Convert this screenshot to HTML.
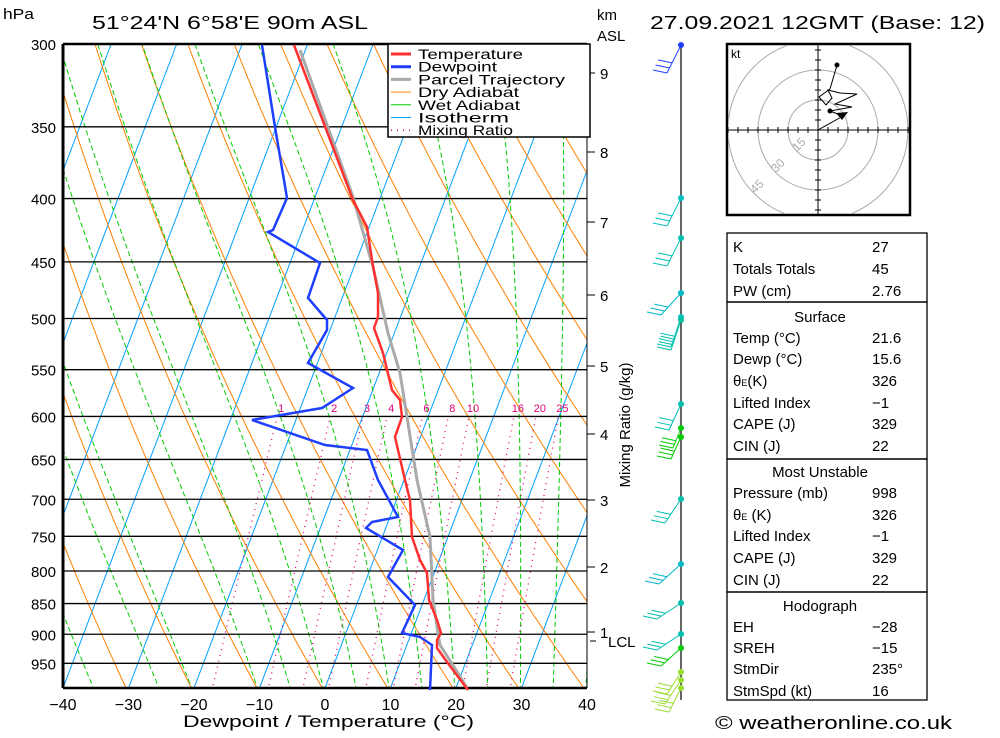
<!DOCTYPE html>
<html><head><meta charset="utf-8"><style>
body{margin:0;background:#fff;width:1000px;height:733px;overflow:hidden;font-family:"Liberation Sans",sans-serif;}
svg text{font-family:"Liberation Sans",sans-serif;}
</style></head><body>
<svg id="s" width="1000" height="733" xmlns="http://www.w3.org/2000/svg"></svg>
<script>
var S=document.getElementById('s'),o='';
function Y(p){return 44+537.3*Math.log(p/300);}
function X(T,p){return 63+(T+40)*6.55+(688-Y(p))*0.38;}
function pl(pts,st){return '<polyline fill="none" points="'+pts.map(function(a){return a[0].toFixed(1)+','+a[1].toFixed(1)}).join(' ')+'" '+st+'/>';}
function TL(n){return ' textLength="'+n+'" lengthAdjust="spacingAndGlyphs"';}
o+='<defs><clipPath id="c"><rect x="63" y="44" width="524" height="644"/></clipPath></defs><g clip-path="url(#c)">';
for(var T=-120;T<=40;T+=10){o+=pl([[X(T,1000),Y(1000)],[X(T,300),Y(300)]],'stroke="#00a0ff" stroke-width="1"');}
for(var th=203.15;th<=523.15;th+=10){var a=[];for(var p=1000;p>=300;p-=10){a.push([X(th*Math.pow(p/1000,0.286)-273.15,p),Y(p)]);}o+=pl(a,'stroke="#ff8000" stroke-width="1"');}
function es(t){return 6.112*Math.exp(17.67*t/(t+243.5));}
var ws=[-35,-25,-20,-10,-5,0,5,10,15,20,25,30,35,40];
ws.forEach(function(t0){var t=t0,a=[],p=1000;a.push([X(t,p),Y(p)]);while(p>300){var TK=t+273.15,e=es(t),rs=0.622*e/(p-e);var g=(287*TK+2.5e6*rs)/(1004+2.5e6*2.5e6*rs*0.622/(287*TK*TK))/p;var dp=-5;t+=g*dp;p+=dp;a.push([X(t,p),Y(p)]);}o+=pl(a,'stroke="#00cc00" stroke-width="1" stroke-dasharray="5,3"');});
var mr=[1,2,3,4,6,8,10,16,20,25];
mr.forEach(function(w){var a=[];for(var p=1000;p>=600;p-=10){var e=w*p/(622+w),l=Math.log(e/6.112),td=243.5*l/(17.67-l);a.push([X(td,p),Y(p)]);}o+=pl(a,'stroke="#e0007a" stroke-width="1.3" stroke-dasharray="1,5"');var e=w*600/(622+w),l=Math.log(e/6.112),td=243.5*l/(17.67-l);o+='<text x="'+(X(td,600)+4).toFixed(1)+'" y="412" font-size="11" fill="#e0007a" text-anchor="middle">'+w+'</text>';});
o+='</g>';
[300,350,400,450,500,550,600,650,700,750,800,850,900,950].forEach(function(p){var y=Y(p);o+='<line x1="63" x2="587" y1="'+y+'" y2="'+y+'" stroke="#000" stroke-width="1.3"/>';o+='<text x="56" y="'+(y+6)+'" font-size="15" text-anchor="end">'+p+'</text>';});
o+='<line x1="63" x2="587" y1="44" y2="44" stroke="#000" stroke-width="2.5"/>';
o+='<line x1="63" x2="587" y1="688" y2="688" stroke="#000" stroke-width="2.5"/>';
o+='<line x1="63" x2="63" y1="44" y2="688" stroke="#000" stroke-width="3"/>';
o+='<line x1="587" x2="587" y1="44" y2="688" stroke="#000" stroke-width="1"/>';
for(var t=-40;t<=40;t+=10){var x=63+(t+40)*6.55;o+='<text x="'+x+'" y="710" font-size="16" text-anchor="middle">'+(t<0?'\u2212'+(-t):t)+'</text>';}
o+='<text x="183" y="727" font-size="17"'+TL(291)+'>Dewpoint / Temperature (°C)</text>';
o+='<text x="3" y="19" font-size="15"'+TL(31)+'>hPa</text>';
o+='<text x="92" y="29" font-size="18"'+TL(276)+'>51°24\'N  6°58\'E  90m  ASL</text>';
o+='<text x="650" y="29" font-size="18"'+TL(335)+'>27.09.2021  12GMT  (Base: 12)</text>';
o+='<text x="597" y="20" font-size="15">km</text><text x="597" y="41" font-size="15">ASL</text>';
[[9,73],[8,152],[7,222],[6,295],[5,366],[4,434],[3,500],[2,567],[1,632]].forEach(function(k){o+='<line x1="587" x2="595" y1="'+k[1]+'" y2="'+k[1]+'" stroke="#000"/><text x="600" y="'+(k[1]+6)+'" font-size="15">'+k[0]+'</text>';});
o+='<line x1="590" x2="596" y1="641" y2="641" stroke="#000"/><text x="608" y="647" font-size="15">LCL</text>';
o+='<text transform="translate(630,425) rotate(-90)" font-size="15" text-anchor="middle">Mixing Ratio (g/kg)</text>';
var par=[[300,50],[353,197],[373,267],[388,333],[400,373],[407,417],[417,480],[430,537],[433,600],[438,633],[440,645],[458,673],[467,688]];
o+=pl(par,'stroke="#aaaaaa" stroke-width="3"');
var dew=[[262,45],[275,127],[287,198],[273,230],[268,232],[320,263],[308,298],[327,320],[327,330],[308,363],[353,388],[322,408],[252,420],[325,445],[367,450],[378,480],[398,517],[372,522],[366,528],[403,550],[388,577],[415,605],[402,633],[420,637],[432,645],[430,690]];
o+=pl(dew,'stroke="#1f3fff" stroke-width="2.5"');
var tem=[[294,45],[353,200],[367,227],[372,260],[378,293],[378,317],[374,328],[383,353],[392,390],[400,400],[402,417],[395,437],[405,480],[410,500],[412,537],[420,560],[427,573],[429,600],[437,620],[441,633],[437,640],[437,648],[447,662],[468,690]];
o+=pl(tem,'stroke="#ff3030" stroke-width="2.5"');
o+='<rect x="388" y="44" width="202" height="93" fill="#fff" stroke="#000" stroke-width="1.5"/>';
var lg=[['Temperature','#ff3030',3,'',105],['Dewpoint','#1f3fff',3,'',79],['Parcel Trajectory','#aaaaaa',3,'',147],['Dry Adiabat','#ff8000',1,'',101],['Wet Adiabat','#00cc00',1,'',102],['Isotherm','#00a0ff',1,'',91],['Mixing Ratio','#e0007a',1.5,'stroke-dasharray="1,5"',95]];
lg.forEach(function(l,i){var y=54+i*12.7;o+='<line x1="391" x2="411" y1="'+y+'" y2="'+y+'" stroke="'+l[1]+'" stroke-width="'+l[2]+'" '+l[3]+'/><text x="418" y="'+(y+5)+'" font-size="14"'+TL(l[4])+'>'+l[0]+'</text>';});
o+='<line x1="681" x2="681" y1="44" y2="700" stroke="#000" stroke-width="1.2"/>';
var bb=[[45,'#1f3fff',-14,28],[198,'#00c0c0',-14,28],[238,'#00c0b0',-14,28],[293,'#00b8c8',-20,22],[317,'#00c0c0',-10,30],[320,'#00c0a0',-10,30],[404,'#00c0b0',-12,26],[428,'#00cc00',-8,20],[437,'#00cc00',-10,22],[499,'#00c0b0',-16,24],[564,'#00b8c8',-22,20],[603,'#00c0b0',-24,16],[634,'#00c0b0',-24,16],[648,'#00cc00',-20,18],[672,'#99dd33',-14,22],[680,'#99dd33',-16,24],[688,'#99dd33',-12,24]];
bb.forEach(function(b){var x2=681+b[2],y2=b[0]+b[3];o+='<circle cx="681" cy="'+b[0]+'" r="3" fill="'+b[1]+'"/><line x1="681" y1="'+b[0]+'" x2="'+x2+'" y2="'+y2+'" stroke="'+b[1]+'"/>';for(var k=0;k<3;k++){var f=k*0.18,xs=x2+(681-x2)*f,ys=y2+(b[0]-y2)*f;o+='<line x1="'+xs+'" y1="'+ys+'" x2="'+(xs-14)+'" y2="'+(ys-3)+'" stroke="'+b[1]+'"/>';}});
o+='<rect x="727" y="44" width="183" height="171" fill="#fff" stroke="#000" stroke-width="2.5"/>';
o+='<clipPath id="h"><rect x="728" y="45" width="181" height="169"/></clipPath><g clip-path="url(#h)">';
[30,60,90].forEach(function(r){o+='<circle cx="818" cy="130" r="'+r+'" fill="none" stroke="#aaa"/>';});
o+='<line x1="727" x2="910" y1="130" y2="130" stroke="#000"/><line x1="818" x2="818" y1="44" y2="215" stroke="#000"/>';
for(var d=-90;d<=90;d+=10){if(d==0)continue;o+='<line x1="'+(818+d)+'" x2="'+(818+d)+'" y1="127" y2="133" stroke="#000"/><line x1="815" x2="821" y1="'+(130+d)+'" y2="'+(130+d)+'" stroke="#000"/>';}
o+='</g><text x="731" y="58" font-size="12">kt</text>';
o+='<text x="797" y="152" font-size="12" fill="#aaa" transform="rotate(-45 797 152)">15</text><text x="776" y="173" font-size="12" fill="#aaa" transform="rotate(-45 776 173)">30</text><text x="755" y="194" font-size="12" fill="#aaa" transform="rotate(-45 755 194)">45</text>';
o+=pl([[818,130],[843,116],[830,111],[852,107],[835,104],[857,94],[840,93],[828,90],[832,98],[826,105],[819,97],[830,89],[837,65]],'stroke="#000" stroke-width="1"');
o+='<polygon points="836,113 848,112 842,120" fill="#000"/><circle cx="830" cy="111" r="2.5"/><circle cx="837" cy="65" r="2.5"/>';
function box(y1,y2){o+='<rect x="727" y="'+y1+'" width="200" height="'+(y2-y1)+'" fill="none" stroke="#000" stroke-width="1.3"/>';}
box(233,302);box(302,459);box(459,592);box(592,700);
function row(y,a,b){o+='<text x="733" y="'+y+'" font-size="15">'+a+'</text>';if(b!==undefined)o+='<text x="872" y="'+y+'" font-size="15">'+b+'</text>';}
function hd(y,a){o+='<text x="820" y="'+y+'" font-size="15" text-anchor="middle">'+a+'</text>';}
row(252,'K','27');row(274,'Totals Totals','45');row(296,'PW (cm)','2.76');
hd(322,'Surface');row(343,'Temp (°C)','21.6');row(364,'Dewp (°C)','15.6');row(386,'θ<tspan font-size="9">E</tspan>(K)','326');row(408,'Lifted Index','\u22121');row(429,'CAPE (J)','329');row(451,'CIN (J)','22');
hd(477,'Most Unstable');row(498,'Pressure (mb)','998');row(520,'θ<tspan font-size="9">E</tspan> (K)','326');row(541,'Lifted Index','\u22121');row(563,'CAPE (J)','329');row(585,'CIN (J)','22');
hd(611,'Hodograph');row(632,'EH','\u221228');row(653,'SREH','\u221215');row(674,'StmDir','235°');row(696,'StmSpd (kt)','16');
o+='<text x="715" y="729" font-size="18"'+TL(237)+'>© weatheronline.co.uk</text>';
S.innerHTML=o;
</script>
</body></html>
